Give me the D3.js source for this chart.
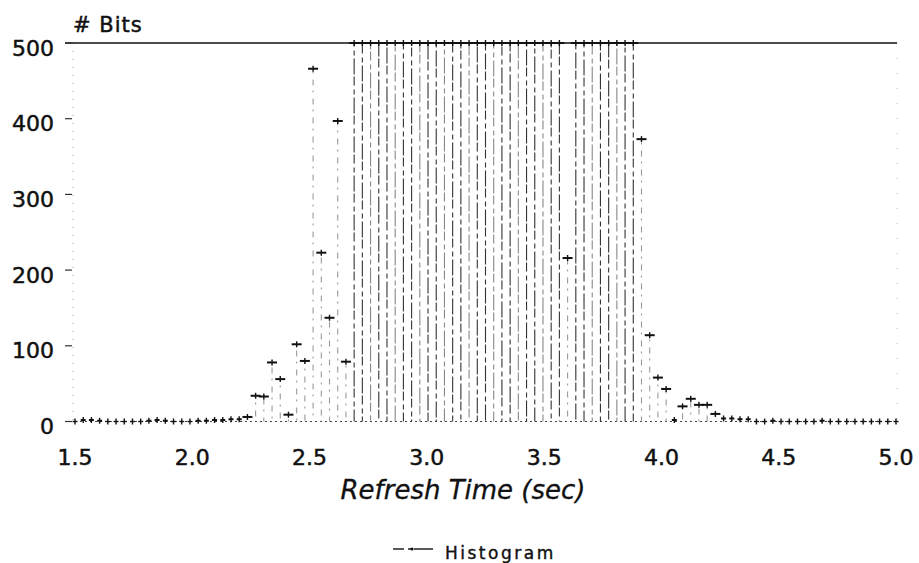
<!DOCTYPE html>
<html>
<head>
<meta charset="utf-8">
<script src="https://cdn.jsdelivr.net/npm/d3@7"></script>
<style>
	body { margin: 0; background: #fff; }
	text { font-family: 'DejaVu Sans', sans-serif; fill: #111; }
</style>
</head>
<body>
<div id="chart"></div>
<script>
// histogram bins: start of first bin, bin width, number of bins
const binStart = 1.5
const binWidth = 0.035

// counts per bin (values above 500 are drawn clipped at the top of the frame)
const counts = [
	0, 2, 2, 1, 0, 0, 0, 0, 0, 1,
	2, 1, 0, 0, 0, 1, 1, 2, 2, 3,
	3, 6, 34, 33, 78, 56, 9, 102, 80, 466,
	223, 137, 397, 79, 500, 500, 500, 500, 500, 500,
	500, 500, 500, 500, 500, 500, 500, 500, 500, 500,
	500, 500, 500, 500, 500, 500, 500, 500, 500, 500,
	216, 500, 500, 500, 500, 500, 500, 500, 500, 373,
	114, 58, 43, 2, 20, 30, 22, 22, 10, 4,
	4, 3, 3, 0, 0, 1, 0, 0, 0, 0,
	0, 1, 0, 0, 0, 0, 0, 0, 0, 0,
	0
]

const xTicks = [1.5, 2.0, 2.5, 3.0, 3.5, 4.0, 4.5, 5.0]
const yTicks = [0, 100, 200, 300, 400, 500]

const yLabel = '# Bits'
const xLabel = 'Refresh Time (sec)'
const legendLabel = 'Histogram'

const width = 919
const height = 563

// build bin nodes from the counts
const bins = counts.map((c, i) => ({ i: i, x: binStart + binWidth * i, count: c }))

const x = d3.scaleLinear().domain([1.5, 5.0]).range([75, 896])
const y = d3.scaleLinear().domain([0, 500]).range([421.5, 43]).clamp(true)

const svg = d3.select('#chart')
	.append('svg')
	.attr('width', width)
	.attr('height', height)

// faint frame sides (dotted in the scan)
svg.append('line')
	.attr('x1', x(1.5) - 2).attr('x2', x(1.5) - 2)
	.attr('y1', y(500)).attr('y2', y(0))
	.attr('stroke', '#999')
	.attr('stroke-width', 1)
	.attr('stroke-dasharray', '1,7')

svg.append('line')
	.attr('x1', x(5.0) + 1).attr('x2', x(5.0) + 1)
	.attr('y1', y(500)).attr('y2', y(0))
	.attr('stroke', '#bbb')
	.attr('stroke-width', 1)
	.attr('stroke-dasharray', '1,14')

// top of frame
svg.append('line')
	.attr('x1', x(1.5) - 10).attr('x2', x(5.0) + 1)
	.attr('y1', y(500)).attr('y2', y(500))
	.attr('stroke', '#111')
	.attr('stroke-width', 1.6)

// y ticks and labels
const yAxis = svg.append('g')
yAxis.selectAll('line')
	.data(yTicks)
	.join('line')
	.attr('x1', x(1.5) - 10).attr('x2', x(1.5) - 3)
	.attr('y1', d => y(d)).attr('y2', d => y(d))
	.attr('stroke', '#333')
	.attr('stroke-width', 1.2)

yAxis.selectAll('text')
	.data(yTicks)
	.join('text')
	.attr('x', 54)
	.attr('y', d => y(d) + 12.5)
	.attr('text-anchor', 'end')
	.attr('stroke', '#111')
	.attr('stroke-width', 0.5)
	.style('font-size', '22px')
	.text(d => d)

svg.append('text')
	.attr('x', 73)
	.attr('y', 32)
	.attr('stroke', '#111')
	.attr('stroke-width', 0.5)
	.style('font-size', '21px')
	.style('letter-spacing', '1px')
	.text(yLabel)

// x tick labels (no tick marks in the original)
svg.append('g')
	.selectAll('text')
	.data(xTicks)
	.join('text')
	.attr('x', d => x(d))
	.attr('y', 465)
	.attr('text-anchor', 'middle')
	.attr('stroke', '#111')
	.attr('stroke-width', 0.5)
	.style('font-size', '22px')
	.text(d => d.toFixed(1))

svg.append('text')
	.attr('x', 463)
	.attr('y', 499)
	.attr('text-anchor', 'middle')
	.attr('stroke', '#111')
	.attr('stroke-width', 0.3)
	.style('font-size', '26px')
	.style('font-style', 'italic')
	.text(xLabel)

// zero line, dotted like the scan
svg.append('line')
	.attr('x1', x(1.5)).attr('x2', x(5.0))
	.attr('y1', y(0)).attr('y2', y(0))
	.attr('stroke', '#444')
	.attr('stroke-width', 1.2)
	.attr('stroke-dasharray', '2,3')

// stems from zero up to each count
svg.append('g')
	.selectAll('line')
	.data(bins.filter(d => d.count > 4))
	.join('line')
	.attr('x1', d => x(d.x)).attr('x2', d => x(d.x))
	.attr('y1', y(0)).attr('y2', d => y(d.count))
	.attr('stroke', d => d.count < 500 ? '#999' : (d.i % 3 == 0 ? '#888' : '#333'))
	.attr('stroke-width', 1.1)
	.attr('stroke-dasharray', d => d.count >= 500 ? '16,3,5,4,9,2' : '2,5,6,6')
	.attr('stroke-dashoffset', d => d.i * 7)

// markers: a small cross with a wide horizontal arm
const markers = svg.append('g')
	.selectAll('g')
	.data(bins)
	.join('g')
	.attr('transform', d => `translate(${x(d.x)},${y(d.count)})`)

markers.append('line')
	.attr('x1', d => d.count > 4 ? -5 : -2.5)
	.attr('x2', d => d.count > 4 ? 5 : 2.5)
	.attr('stroke', '#111')
	.attr('stroke-width', d => d.count > 0 ? 2 : 1.4)

markers.append('line')
	.attr('y1', -3).attr('y2', 3)
	.attr('stroke', '#111')
	.attr('stroke-width', 1.4)

// legend
const legend = svg.append('g')
legend.append('line')
	.attr('x1', 393).attr('x2', 433)
	.attr('y1', 549).attr('y2', 549)
	.attr('stroke', '#222')
	.attr('stroke-width', 1.3)
	.attr('stroke-dasharray', '11,4,3,3,40')
legend.append('circle')
	.attr('cx', 412).attr('cy', 549)
	.attr('r', 1.6)
	.attr('fill', '#111')
legend.append('text')
	.attr('x', 445)
	.attr('y', 559)
	.attr('stroke', '#111')
	.attr('stroke-width', 0.4)
	.style('font-size', '17px')
	.style('letter-spacing', '2.5px')
	.text(legendLabel)
</script>
</body>
</html>
